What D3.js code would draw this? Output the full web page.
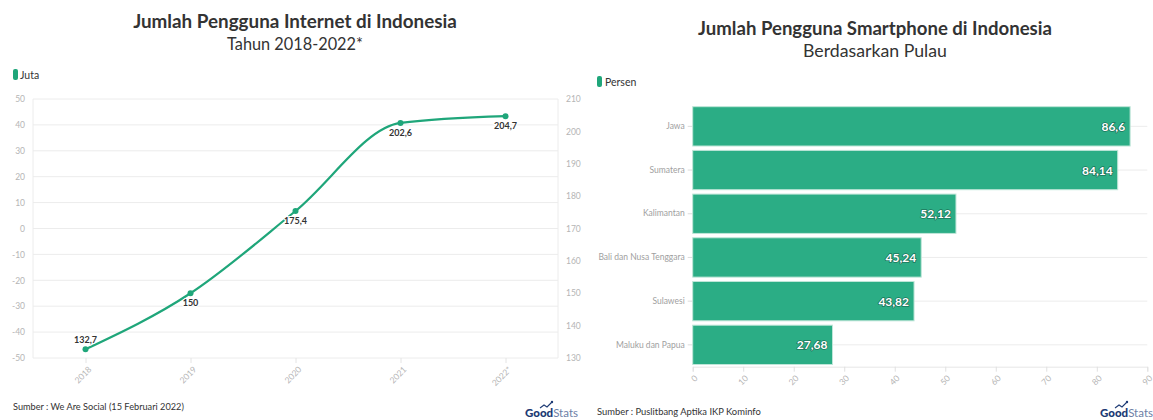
<!DOCTYPE html>
<html><head><meta charset="utf-8">
<script src="https://cdn.jsdelivr.net/npm/d3@7"></script>
<style>
html,body{margin:0;padding:0;background:#fff;}
svg{display:block;font-family:Lato,"Open Sans",sans-serif;}
</style></head>
<body>
<svg id="chart" width="1153" height="420"></svg>
<script>
// ---- Data ----
const years = ["2018","2019","2020","2021","2022*"];
const internetUsers = [132.7, 150, 175.4, 202.6, 204.7];
const leftTicks = [-50,-40,-30,-20,-10,0,10,20,30,40,50];
const rightTicks = [130,140,150,160,170,180,190,200,210];

const islands = ["Jawa","Sumatera","Kalimantan","Bali dan Nusa Tenggara","Sulawesi","Maluku dan Papua"];
const smartphonePct = [86.6, 84.14, 52.12, 45.24, 43.82, 27.68];
const pctTicks = [0,10,20,30,40,50,60,70,80,90];

const fmt = v => String(v).replace(".", ",");
const svg = d3.select("#chart");
const GREEN = "#1fa67a", BAR = "#2bad85", GRID = "#ececec", AXIS_TXT = "#b5b5b5";

function fitText(sel, w){
  const n = sel.node(); const fs = parseFloat(sel.attr("font-size"));
  const len = n.getComputedTextLength(); if(len>0) sel.attr("font-size", fs*w/len);
}
function rotLabels(ax, dxp, dyp){
  ax.selectAll("text").attr("fill",AXIS_TXT).attr("font-size",8.5).attr("font-family","Lato")
    .attr("text-anchor","end").attr("x",0).attr("y",0).attr("dy","0.35em")
    .attr("transform",`translate(${dxp},${dyp}) rotate(-45)`);
}

// ================= LEFT: line chart =================
const L = {x0:33, x1:558, y0:99, y1:358};
const x = d3.scalePoint().domain(years).range([L.x0, L.x1]).padding(0.5);
const yLeft = d3.scaleLinear().domain([-50,50]).range([L.y1, L.y0]);
const yRight = d3.scaleLinear().domain([130,210]).range([L.y1, L.y0]);

const gl = svg.append("g");
fitText(gl.append("text").attr("x",295).attr("y",28).attr("text-anchor","middle")
  .attr("font-size",18).attr("font-weight",700).attr("fill","#333")
  .text("Jumlah Pengguna Internet di Indonesia"), 324);
fitText(gl.append("text").attr("x",295).attr("y",50).attr("text-anchor","middle")
  .attr("font-size",16).attr("fill","#333").text("Tahun 2018-2022*"), 136);
gl.append("rect").attr("x",13).attr("y",69).attr("width",5).attr("height",11).attr("rx",2).attr("fill",GREEN);
gl.append("text").attr("x",20).attr("y",78.5).attr("font-size",10.5).attr("fill","#333").text("Juta");

gl.append("g").selectAll("line").data(leftTicks).join("line")
  .attr("x1",L.x0).attr("x2",L.x1).attr("y1",d=>yLeft(d)).attr("y2",d=>yLeft(d))
  .attr("stroke",GRID).attr("stroke-width",1);
gl.append("line").attr("x1",L.x0).attr("x2",L.x0).attr("y1",L.y0).attr("y2",L.y1).attr("stroke",GRID);
gl.append("line").attr("x1",L.x1).attr("x2",L.x1).attr("y1",L.y0).attr("y2",L.y1).attr("stroke",GRID);

const axL = gl.append("g").attr("transform",`translate(${L.x0},0)`)
  .call(d3.axisLeft(yLeft).tickValues(leftTicks).tickFormat(d=>String(d)).tickSize(0).tickPadding(8));
axL.select(".domain").remove();
axL.selectAll("text").attr("fill",AXIS_TXT).attr("font-size",8.5).attr("font-family","Lato");
const axR = gl.append("g").attr("transform",`translate(${L.x1},0)`)
  .call(d3.axisRight(yRight).tickValues(rightTicks).tickFormat(d=>String(d)).tickSize(0).tickPadding(8));
axR.select(".domain").remove();
axR.selectAll("text").attr("fill",AXIS_TXT).attr("font-size",8.5).attr("font-family","Lato");
const axX = gl.append("g").attr("transform",`translate(0,${L.y1})`)
  .call(d3.axisBottom(x).tickSize(5));
axX.select(".domain").remove();
axX.selectAll("line").attr("stroke","#e4e4e4");
rotLabels(axX, 4, 10);

const pts = years.map((y,i)=>({y, v:internetUsers[i]}));
gl.append("path").datum(pts)
  .attr("d", d3.line().x(d=>x(d.y)).y(d=>yRight(d.v)).curve(d3.curveMonotoneX))
  .attr("fill","none").attr("stroke",GREEN).attr("stroke-width",2.2);
gl.append("g").selectAll("circle").data(pts).join("circle")
  .attr("cx",d=>x(d.y)).attr("cy",d=>yRight(d.v)).attr("r",3).attr("fill",GREEN);
gl.append("g").selectAll("text").data(pts).join("text")
  .attr("x",d=>x(d.y)).attr("y",(d,i)=> i===0 ? yRight(d.v)-6 : yRight(d.v)+13)
  .attr("text-anchor","middle").attr("font-size",9).attr("font-weight",700).attr("fill","#333")
  .attr("stroke","#fff").attr("stroke-width",2).attr("paint-order","stroke")
  .text(d=>fmt(d.v));

fitText(gl.append("text").attr("x",13).attr("y",410).attr("font-size",11).attr("fill","#333")
  .text("Sumber : We Are Social (15 Februari 2022)"), 171);

function logo(g, xr, yb){
  const t = g.append("text").attr("x",xr).attr("y",yb).attr("text-anchor","end").attr("font-size",11.5);
  t.append("tspan").attr("font-weight",900).attr("fill","#1d3a74").text("Good");
  t.append("tspan").attr("fill","#6d80a6").text("Stats");
  const bb = t.node().getBBox();
  const ix = bb.x + 15;
  g.append("path").attr("d",`M${ix},${yb-9} l4,-3 l3,2 l5,-5`).attr("fill","none")
    .attr("stroke","#1d3a74").attr("stroke-width",1.1);
  g.append("circle").attr("cx",ix+12).attr("cy",yb-15).attr("r",1.2).attr("fill","#1d3a74");
}
logo(gl, 578, 417);

// ================= RIGHT: bar chart =================
const R = {x0:692.7, x1:1147.3, y0:104.5, y1:366.7};
const xb = d3.scaleLinear().domain([0,90]).range([R.x0, R.x1]);
const yb = d3.scaleBand().domain(islands).range([R.y0, R.y1]).paddingInner(0.1).paddingOuter(0.05);

const gr = svg.append("g");
fitText(gr.append("text").attr("x",875).attr("y",35).attr("text-anchor","middle")
  .attr("font-size",18).attr("font-weight",700).attr("fill","#333")
  .text("Jumlah Pengguna Smartphone di Indonesia"), 354);
fitText(gr.append("text").attr("x",875).attr("y",57).attr("text-anchor","middle")
  .attr("font-size",16).attr("fill","#333").text("Berdasarkan Pulau"), 144);
gr.append("rect").attr("x",597).attr("y",76).attr("width",5).attr("height",11).attr("rx",2).attr("fill",GREEN);
gr.append("text").attr("x",605).attr("y",85.5).attr("font-size",10.5).attr("fill","#333").text("Persen");

gr.append("g").selectAll("line").data(islands).join("line")
  .attr("x1",R.x0).attr("x2",R.x1)
  .attr("y1",d=>yb(d)+yb.bandwidth()/2).attr("y2",d=>yb(d)+yb.bandwidth()/2)
  .attr("stroke",GRID);
const axC = gr.append("g").attr("transform",`translate(${R.x0},0)`)
  .call(d3.axisLeft(yb).tickSize(5).tickPadding(3));
axC.select(".domain").remove();
axC.selectAll("line").attr("stroke","#dcdcdc");
axC.selectAll("text").attr("fill","#a0a0a0").attr("font-size",8.5).attr("font-family","Lato");
const axV = gr.append("g").attr("transform",`translate(0,${R.y1})`)
  .call(d3.axisBottom(xb).tickValues(pctTicks).tickSize(5));
axV.select(".domain").attr("stroke","#e6e6e6");
axV.selectAll("line").attr("stroke","#e0e0e0");
rotLabels(axV, 3, 10);

const bars = islands.map((k,i)=>({k, v:smartphonePct[i]}));
gr.append("g").selectAll("rect").data(bars).join("rect")
  .attr("x",xb(0)).attr("y",d=>yb(d.k)).attr("width",d=>xb(d.v)-xb(0)).attr("height",yb.bandwidth())
  .attr("fill",BAR).attr("stroke","#bfe6d8").attr("stroke-width",1);
gr.append("g").selectAll("text").data(bars).join("text")
  .attr("x",d=>xb(d.v)-5).attr("y",d=>yb(d.k)+yb.bandwidth()/2+4.5)
  .attr("text-anchor","end").attr("font-size",12).attr("font-weight",700).attr("fill","#fff")
  .attr("stroke","rgba(0,0,0,0.35)").attr("stroke-width",1.6).attr("paint-order","stroke")
  .text(d=>fmt(d.v));

fitText(gr.append("text").attr("x",597).attr("y",415).attr("font-size",11).attr("fill","#333")
  .text("Sumber : Puslitbang Aptika IKP Kominfo"), 164);
logo(gr, 1153, 417);
</script>
</body></html>
